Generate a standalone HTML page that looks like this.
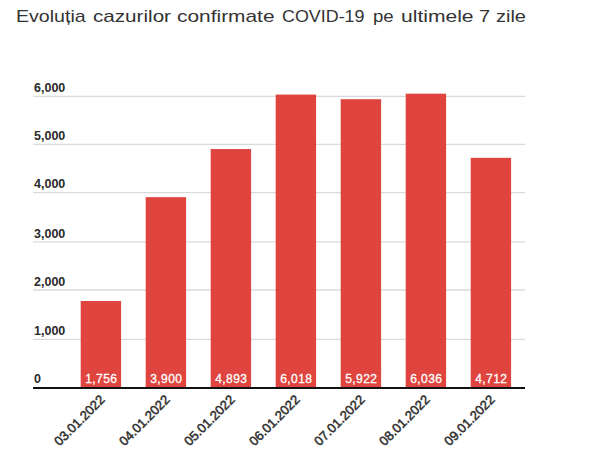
<!DOCTYPE html>
<html><head><meta charset="utf-8"><style>
html,body{margin:0;padding:0;background:#fff;}
body{width:603px;height:457px;overflow:hidden;position:relative;font-family:"Liberation Sans",sans-serif;}
.title span{position:absolute;top:7px;font-size:17px;color:#333;white-space:nowrap;line-height:normal;transform-origin:0 0;}
svg{position:absolute;left:0;top:0;}
.yl{font-family:"Liberation Sans",sans-serif;font-weight:bold;font-size:12.5px;fill:#2a2a2a;}
.vl{font-family:"Liberation Sans",sans-serif;font-weight:normal;font-size:12px;fill:#fff;stroke:#fff;stroke-width:0.3px;text-anchor:middle;letter-spacing:0.4px;}
.xl{font-family:"Liberation Sans",sans-serif;font-weight:normal;font-size:13px;fill:#303030;stroke:#303030;stroke-width:0.5px;text-anchor:end;}
</style></head><body>
<div class="title"><span style="left:16.3px;transform:scaleX(1.152)">Evoluția</span><span style="left:93.0px;transform:scaleX(1.214)">cazurilor</span><span style="left:177.4px;transform:scaleX(1.229)">confirmate</span><span style="left:282.1px;transform:scaleX(1.052)">COVID-19</span><span style="left:372.9px;transform:scaleX(1.094)">pe</span><span style="left:401.3px;transform:scaleX(1.239)">ultimele</span><span style="left:478.7px;transform:scaleX(1.175)">7</span><span style="left:495.7px;transform:scaleX(1.175)">zile</span></div>
<svg width="603" height="457" viewBox="0 0 603 457">
<line x1="33" x2="525" y1="96.34" y2="96.34" stroke="#dadada" stroke-width="1.4"/><line x1="33" x2="525" y1="144.36" y2="144.36" stroke="#dadada" stroke-width="1.4"/><line x1="33" x2="525" y1="192.6" y2="192.6" stroke="#dadada" stroke-width="1.4"/><line x1="33" x2="525" y1="241.9" y2="241.9" stroke="#dadada" stroke-width="1.4"/><line x1="33" x2="525" y1="290.0" y2="290.0" stroke="#dadada" stroke-width="1.4"/><line x1="33" x2="525" y1="339.36" y2="339.36" stroke="#dadada" stroke-width="1.4"/>
<text x="34" y="91.9" class="yl">6,000</text><text x="34" y="140.0" class="yl">5,000</text><text x="34" y="188.2" class="yl">4,000</text><text x="34" y="237.5" class="yl">3,000</text><text x="34" y="285.6" class="yl">2,000</text><text x="34" y="335.0" class="yl">1,000</text>
<text x="34" y="383" class="yl">0</text>
<rect x="80.7" y="301.00" width="40.4" height="87.00" fill="#e0443e"/><rect x="145.7" y="197.16" width="40.4" height="190.84" fill="#e0443e"/><rect x="210.7" y="149.06" width="40.4" height="238.94" fill="#e0443e"/><rect x="275.7" y="94.57" width="40.4" height="293.43" fill="#e0443e"/><rect x="340.7" y="99.22" width="40.4" height="288.78" fill="#e0443e"/><rect x="405.7" y="93.69" width="40.4" height="294.31" fill="#e0443e"/><rect x="470.7" y="157.82" width="40.4" height="230.18" fill="#e0443e"/>
<rect x="33" y="387" width="492" height="2" fill="#111"/>
<text x="101.3" y="383" class="vl">1,756</text><text x="166.3" y="383" class="vl">3,900</text><text x="231.3" y="383" class="vl">4,893</text><text x="296.3" y="383" class="vl">6,018</text><text x="361.3" y="383" class="vl">5,922</text><text x="426.3" y="383" class="vl">6,036</text><text x="491.3" y="383" class="vl">4,712</text>
<text transform="translate(105.6,400.5) rotate(-45)" class="xl">03.01.2022</text><text transform="translate(170.6,400.5) rotate(-45)" class="xl">04.01.2022</text><text transform="translate(235.6,400.5) rotate(-45)" class="xl">05.01.2022</text><text transform="translate(300.6,400.5) rotate(-45)" class="xl">06.01.2022</text><text transform="translate(365.6,400.5) rotate(-45)" class="xl">07.01.2022</text><text transform="translate(430.6,400.5) rotate(-45)" class="xl">08.01.2022</text><text transform="translate(495.6,400.5) rotate(-45)" class="xl">09.01.2022</text>
</svg>
</body></html>
